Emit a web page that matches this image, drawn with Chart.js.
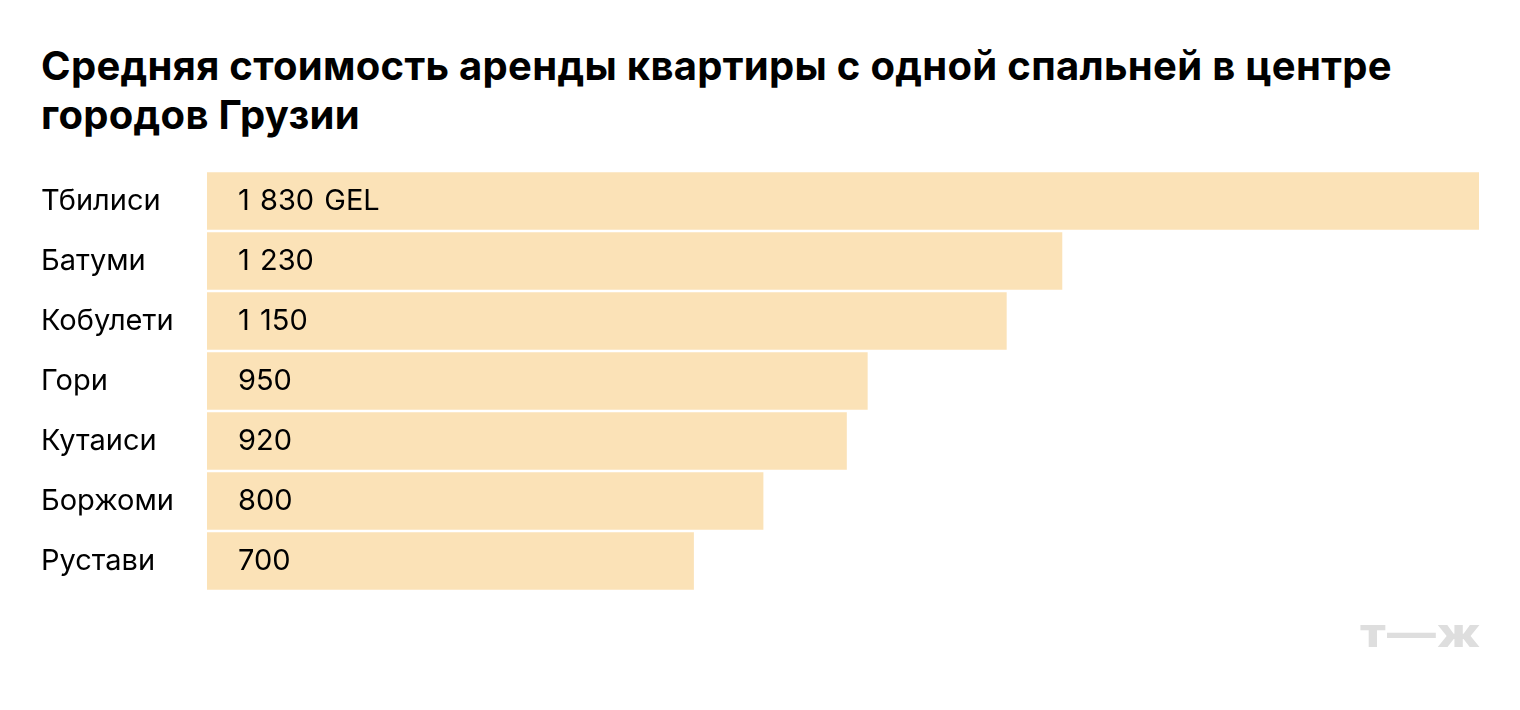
<!DOCTYPE html>
<html>
<head>
<meta charset="utf-8">
<script src="https://cdn.jsdelivr.net/npm/chart.js@4"></script>
<style>
  html, body { margin: 0; padding: 0; background: #fff; }
  #wrap { position: relative; width: 1520px; height: 710px; }
  #title {
    position: absolute; left: 41px; top: 41px; width: 1470px;
    font-family: Inter, "Noto Sans", sans-serif; font-weight: 700;
    font-size: 40px; line-height: 49px; color: #000; letter-spacing: 0.3px;
  }
  #logo {
    position: absolute; left: 1360px; top: 608px;
    font-family: Inter, sans-serif; font-weight: 800; font-size: 40px; color: #dedede;
    letter-spacing: 1px; transform-origin: left top; transform: scaleX(1.22);
  }
  canvas { position: absolute; left: 0; top: 0; }
</style>
</head>
<body>
<div id="wrap">
  <div id="title">Средняя стоимость аренды квартиры с одной спальней в центре<br>городов Грузии</div>
  <canvas id="myChart" width="1520" height="710"></canvas>
  <div id="logo">т—ж</div>
</div>
<script>
var cities = ['Тбилиси', 'Батуми', 'Кобулети', 'Гори', 'Кутаиси', 'Боржоми', 'Рустави'];
var rent = [1830, 1230, 1150, 950, 920, 800, 700];
var rentLabels = ['1 830 GEL', '1 230', '1 150', '950', '920', '800', '700'];

var valueLabels = {
  id: 'valueLabels',
  afterDatasetsDraw: function (chart) {
    var ctx = chart.ctx;
    var meta = chart.getDatasetMeta(0);
    ctx.save();
    ctx.font = '29px Inter, "Noto Sans", sans-serif';
    ctx.wordSpacing = '2px';
    ctx.fillStyle = '#000';
    ctx.textBaseline = 'middle';
    ctx.textAlign = 'left';
    meta.data.forEach(function (bar, i) {
      ctx.fillText(rentLabels[i], bar.base + 31, bar.y);
    });
    ctx.restore();
  }
};

var ctx = document.getElementById('myChart').getContext('2d');
var myChart = new Chart(ctx, {
  type: 'bar',
  data: {
    labels: cities,
    datasets: [{
      data: rent,
      backgroundColor: '#fbe2b7',
      barThickness: 57
    }]
  },
  options: {
    indexAxis: 'y',
    responsive: false,
    animation: false,
    layout: { padding: { left: 41, right: 41, top: 171, bottom: 119 } },
    plugins: { legend: { display: false }, tooltip: { enabled: false } },
    scales: {
      x: { display: false, min: 0, max: 1830 },
      y: {
        grid: { display: false },
        border: { display: false },
        afterFit: function (scale) { scale.width = 166; },
        ticks: {
          crossAlign: 'far',
          color: '#000',
          font: { family: 'Inter, "Noto Sans", sans-serif', size: 29 }
        }
      }
    }
  },
  plugins: [valueLabels]
});
</script>
</body>
</html>
